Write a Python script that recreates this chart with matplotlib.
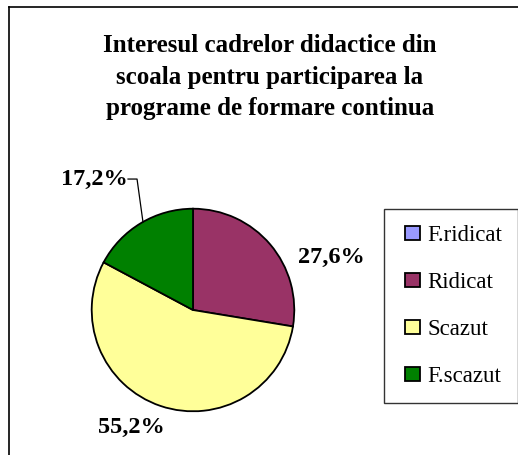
import matplotlib.pyplot as plt
from matplotlib.lines import Line2D
from matplotlib.patches import Rectangle
from matplotlib.legend_handler import HandlerPatch

categorii = ["F.ridicat", "Ridicat", "Scazut", "F.scazut"]
valori = [0.0, 27.6, 55.2, 17.2]
culori = ["#9999FF", "#993366", "#FFFF99", "#008000"]
etichete = ["", "27,6%", "55,2%", "17,2%"]
titlu = "Interesul cadrelor didactice din\nscoala pentru participarea la\nprograme de formare continua"

plt.rcParams['font.family'] = ['Liberation Serif', 'DejaVu Serif']

W, H = 518, 455
fig = plt.figure(figsize=(W / 100, H / 100), dpi=100)

# pie axes: centre at (193, 310) px, ~102 px per unit
ax = fig.add_axes([60 / W, 1 - 443 / H, 266 / W, 266 / H])
wedges, _ = ax.pie(valori, colors=culori, startangle=90, counterclock=False,
                   radius=0.99, wedgeprops=dict(edgecolor='black', linewidth=1.3))
ax.set_xlim(-1.3, 1.3)
ax.set_ylim(-1.3, 1.3)
ax.axis('off')

# percentage labels
ax.text(1.03, 0.51, etichete[1], fontsize=17.5, fontweight='bold', ha='left', va='center')
ax.text(-0.60, -1.15, etichete[2], fontsize=17.5, fontweight='bold', ha='center', va='center')
ax.text(-0.635, 1.28, etichete[3], fontsize=17.5, fontweight='bold', ha='right', va='center')
ax.plot([-0.635, -0.547, -0.489], [1.28, 1.28, 0.86], color='black', lw=0.9)

fig.text(270 / W, 1 - 77 / H, titlu, fontsize=18, fontweight='bold',
         ha='center', va='center', linespacing=1.46)


def patratel(legend, orig_handle, xdescent, ydescent, width, height, fontsize):
    return Rectangle((width - height - xdescent, -ydescent), height, height)


leg = fig.legend(wedges, categorii, loc='upper left',
                 bbox_to_anchor=(384 / W, 1 - 209 / H), fontsize=16.5,
                 frameon=True, fancybox=False, handlelength=0.85, handleheight=0.57,
                 handletextpad=0.35, labelspacing=1.14, borderpad=0.7, borderaxespad=0,
                 handler_map={w: HandlerPatch(patch_func=patratel) for w in wedges})
leg.get_frame().set_edgecolor('black')
leg.get_frame().set_linewidth(1.0)

# outer chart border (left and top edges visible)
fig.add_artist(Line2D([8.5 / W, 8.5 / W], [0, 1 - 7 / H], color='black', lw=1.2))
fig.add_artist(Line2D([8.5 / W, 1], [1 - 7 / H, 1 - 7 / H], color='black', lw=1.2))

fig.savefig("out.png", dpi=100)
